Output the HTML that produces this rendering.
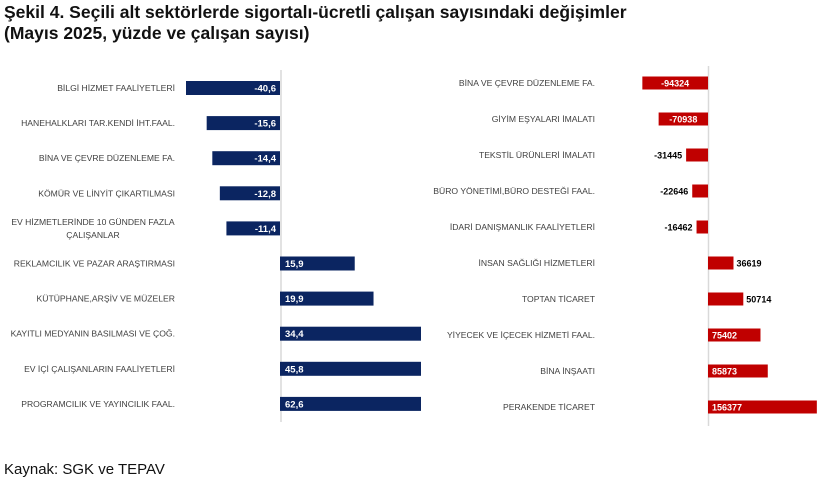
<!DOCTYPE html>
<html><head><meta charset="utf-8"><style>
body{margin:0;width:820px;height:483px;background:#fff;font-family:"Liberation Sans",sans-serif;overflow:hidden}
.t{position:absolute;left:4px;font-weight:bold;font-size:17.5px;color:#111;line-height:21px}
svg text{font-family:"Liberation Sans",sans-serif}
</style></head><body>
<div class="t" style="top:2px">Şekil 4. Seçili alt sektörlerde sigortalı-ücretli çalışan sayısındaki değişimler<br>(Mayıs 2025, yüzde ve çalışan sayısı)</div>
<div style="position:absolute;left:4px;top:461px;font-size:15px;color:#111">Kaynak: SGK ve TEPAV</div>
<svg id="c" width="820" height="483" style="position:absolute;left:0;top:0"></svg>
<script>
const leftCats=[["BİLGİ HİZMET FAALİYETLERİ"],["HANEHALKLARI TAR.KENDİ İHT.FAAL."],["BİNA VE ÇEVRE DÜZENLEME FA."],["KÖMÜR VE LİNYİT ÇIKARTILMASI"],["EV HİZMETLERİNDE 10 GÜNDEN FAZLA","ÇALIŞANLAR"],["REKLAMCILIK VE PAZAR ARAŞTIRMASI"],["KÜTÜPHANE,ARŞİV VE MÜZELER"],["KAYITLI MEDYANIN BASILMASI VE ÇOĞ."],["EV İÇİ ÇALIŞANLARIN FAALİYETLERİ"],["PROGRAMCILIK VE YAYINCILIK FAAL."]];
const leftVals=[-40.6,-15.6,-14.4,-12.8,-11.4,15.9,19.9,34.4,45.8,62.6];
const leftLabels=["-40,6","-15,6","-14,4","-12,8","-11,4","15,9","19,9","34,4","45,8","62,6"];
const rightCats=["BİNA VE ÇEVRE DÜZENLEME FA.","GİYİM EŞYALARI İMALATI","TEKSTİL ÜRÜNLERİ İMALATI","BÜRO YÖNETİMİ,BÜRO DESTEĞİ FAAL.","İDARİ DANIŞMANLIK FAALİYETLERİ","İNSAN SAĞLIĞI HİZMETLERİ","TOPTAN TİCARET","YİYECEK VE İÇECEK HİZMETİ FAAL.","BİNA İNŞAATI","PERAKENDE TİCARET"];
const rightVals=[-94324,-70938,-31445,-22646,-16462,36619,50714,75402,85873,156377];
const svg=document.getElementById('c');const NS='http://www.w3.org/2000/svg';
function mk(t,a,p){const e=document.createElementNS(NS,t);for(const k in a)e.setAttribute(k,a[k]);(p||svg).appendChild(e);return e;}
const lx=v=>280+Math.max(-20,Math.min(30,v))*4.7;
const ly=i=>88+i*35.1;
let ax=mk('line',{x1:281,x2:281,y1:70,y2:422,stroke:'#d9d9d9','stroke-width':1.5});

leftVals.forEach((v,i)=>{const y=ly(i);const x0=lx(0),x1=lx(v);
 const r=mk('rect',{x:Math.min(x0,x1),y:y-7,width:Math.abs(x1-x0),height:14,fill:'#0b2561'});
 
 const t=mk('text',{x:v<0?x0-4:x0+5,y:y+3.5,'font-size':9.5,'font-weight':'bold',fill:'#fff','text-anchor':v<0?'end':'start'});t.textContent=leftLabels[i];
 
 const c=leftCats[i];const multi=c.length>1;
 c.forEach((s,j)=>{const l=mk('text',{x:multi?93:175,y:y+3-(c.length-1)*6.5+j*13,'font-size':8.6,fill:'#404040','text-anchor':multi?'middle':'end'});l.textContent=s;
 });
});
const rx=v=>708+v*0.000696;
const ry=i=>83+i*36;
ax=mk('line',{x1:708.5,x2:708.5,y1:66,y2:426,stroke:'#d9d9d9','stroke-width':1.5});

rightVals.forEach((v,i)=>{const y=ry(i);const x0=rx(0),x1=rx(v);const w=Math.abs(x1-x0);
 const r=mk('rect',{x:Math.min(x0,x1),y:y-6.5,width:w,height:13,fill:'#c00000'});
 
 const inside=w>40;let a,tx;
 if(v<0){if(inside){tx=x0-w/2;a='middle';}else{tx=x1-4;a='end';}}
 else{if(inside){tx=x0+4;a='start';}else{tx=x1+3;a='start';}}
 const t=mk('text',{x:tx,y:y+3.5,'font-size':9,'font-weight':'bold',fill:inside?'#fff':'#000','text-anchor':a});t.textContent=String(v);
 
 const l=mk('text',{x:595,y:y+3,'font-size':8.6,fill:'#404040','text-anchor':'end'});l.textContent=rightCats[i];
 
});
</script>
</body></html>
